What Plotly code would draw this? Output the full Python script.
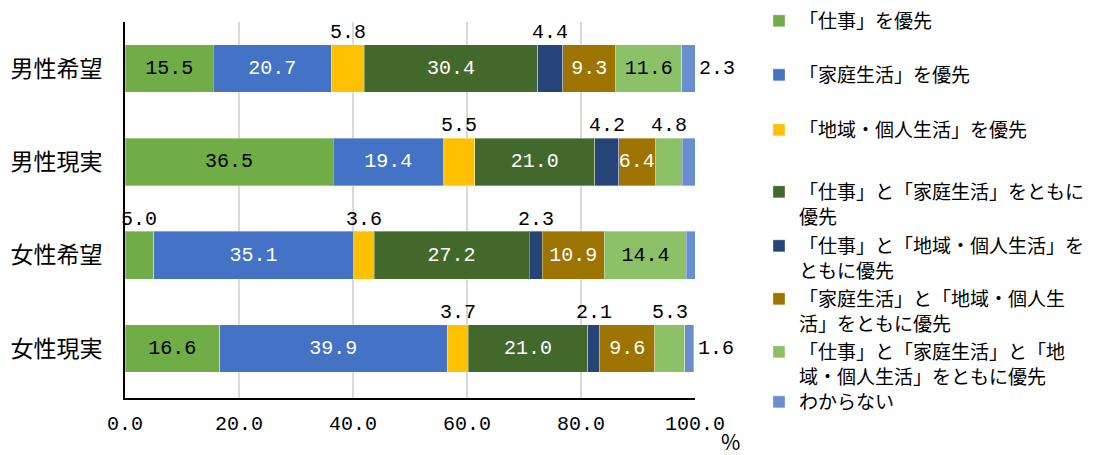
import plotly.graph_objects as go

# ---------------- data ----------------
categories = ["男性希望", "男性現実", "女性希望", "女性現実"]

series_names = [
    "「仕事」を優先",
    "「家庭生活」を優先",
    "「地域・個人生活」を優先",
    "「仕事」と「家庭生活」をともに優先",
    "「仕事」と「地域・個人生活」をともに優先",
    "「家庭生活」と「地域・個人生活」をともに優先",
    "「仕事」と「家庭生活」と「地域・個人生活」をともに優先",
    "わからない",
]
legend_labels = [
    "「仕事」を優先",
    "「家庭生活」を優先",
    "「地域・個人生活」を優先",
    "「仕事」と「家庭生活」をともに<br>優先",
    "「仕事」と「地域・個人生活」を<br>ともに優先",
    "「家庭生活」と「地域・個人生<br>活」をともに優先",
    "「仕事」と「家庭生活」と「地<br>域・個人生活」をともに優先",
    "わからない",
]

work = [15.5, 36.5, 5.0, 16.6]
family = [20.7, 19.4, 35.1, 39.9]
community = [5.8, 5.5, 3.6, 3.7]
work_family = [30.4, 21.0, 27.2, 21.0]
work_community = [4.4, 4.2, 2.3, 2.1]
family_community = [9.3, 6.4, 10.9, 9.6]
all_three = [11.6, 4.8, 14.4, 5.3]
unknown = [2.3, 2.3, 1.5, 1.6]

series_values = [work, family, community, work_family,
                 work_community, family_community, all_three, unknown]

x_tick_values = [0, 20, 40, 60, 80, 100]
x_tick_labels = ["0.0", "20.0", "40.0", "60.0", "80.0", "100.0"]

# ---------------- styles ----------------
colors = ["#70AD47", "#4472C4", "#FFC000", "#43682B",
          "#264478", "#9E7400", "#8CC168", "#698ED0"]
text_colors = ["black", "white", "black", "white",
               "white", "white", "black", "white"]
num_font = "Liberation Mono"
jp_font = "Noto Sans CJK JP"
num_size = 20
inside_min = 6.0

# page body offset (browser default margin)
OFF = 8
# legend item marker centres (viewport pixels from top)
legend_px = [21, 75, 130, 186, 240, 293, 346, 400]
legend_single_adj = [-6, -6, -6, 0, 0, 0, 0, -4]

W, H = 1113 - OFF, 455 - OFF
# plot area in viewport pixels: x 125..695, y 22..398
ml, mt = 125 - OFF, 22 - OFF
mr = W - (695 - OFF)
mb = H - (398 - OFF)
plot_h = H - mt - mb
plot_w = W - ml - mr


def px_to_paper_x(px):
    return (px - OFF - ml) / plot_w


def px_to_paper_y(py):
    return (H - mb - (py - OFF)) / plot_h


fig = go.Figure()
annotations = []
n_series = len(series_values)

for i, (name, vals) in enumerate(zip(series_names, series_values)):
    is_last = i == n_series - 1
    texts = [f"{v:.1f}" if (v >= inside_min and not is_last) else "" for v in vals]
    legend_id = "legend" if i == 0 else f"legend{i + 1}"
    fig.add_trace(go.Bar(
        y=categories, x=vals, name=legend_labels[i], orientation="h",
        marker=dict(color=colors[i], line=dict(color="rgba(255,255,255,0.35)", width=1)),
        text=texts, textposition="inside", insidetextanchor="middle",
        textangle=0, constraintext="none",
        textfont=dict(family=num_font, size=num_size, color=text_colors[i]),
        hovertext=[name] * len(vals),
        legend=legend_id,
    ))

# outside labels
cum = [0.0] * len(categories)
for i, vals in enumerate(series_values):
    is_last = i == n_series - 1
    for j, v in enumerate(vals):
        mid = cum[j] + v / 2
        if is_last:
            annotations.append(dict(
                x=cum[j] + v, y=categories[j], xref="x", yref="y",
                text=f"{v:.1f}", showarrow=False, xanchor="left", xshift=2,
                font=dict(family=num_font, size=num_size, color="black")))
        elif v < inside_min:
            annotations.append(dict(
                x=mid, y=categories[j], xref="x", yref="y",
                text=f"{v:.1f}", showarrow=False, yshift=36,
                font=dict(family=num_font, size=num_size, color="black")))
        cum[j] += v

# percent sign
annotations.append(dict(
    x=px_to_paper_x(730), y=px_to_paper_y(441), xref="paper", yref="paper",
    text="%", showarrow=False, xanchor="center", yanchor="middle",
    font=dict(family=jp_font, size=21, color="black")))

layout_legends = {}
for i in range(n_series):
    key = "legend" if i == 0 else f"legend{i + 1}"
    top_px = legend_px[i] - 13 + legend_single_adj[i]
    layout_legends[key] = dict(
        x=px_to_paper_x(759), xanchor="left",
        y=px_to_paper_y(top_px), yanchor="top",
        font=dict(family=jp_font, size=19, color="black"),
        bgcolor="rgba(0,0,0,0)", valign="top",
        itemclick=False, itemdoubleclick=False,
    )

fig.update_layout(
    width=W, height=H,
    margin=dict(l=ml, r=mr, t=mt, b=mb, autoexpand=False),
    barmode="stack", bargap=0.49,
    plot_bgcolor="white", paper_bgcolor="white",
    showlegend=True,
    annotations=annotations,
    xaxis=dict(
        range=[0, 100], tickvals=x_tick_values, ticktext=x_tick_labels,
        showgrid=True, gridcolor="#D9D9D9", gridwidth=1.5,
        zeroline=False, showline=True, linecolor="black", linewidth=2,
        ticks="", ticklabelstandoff=6, automargin=False,
        tickfont=dict(family=num_font, size=num_size, color="black"),
    ),
    yaxis=dict(
        categoryorder="array", categoryarray=categories, autorange="reversed",
        showline=True, linecolor="black", linewidth=2, ticks="",
        ticklabelstandoff=16, showgrid=False, automargin=False,
        tickfont=dict(family=jp_font, size=23, color="black"),
    ),
    **layout_legends,
)

fig.write_html("out.html")
